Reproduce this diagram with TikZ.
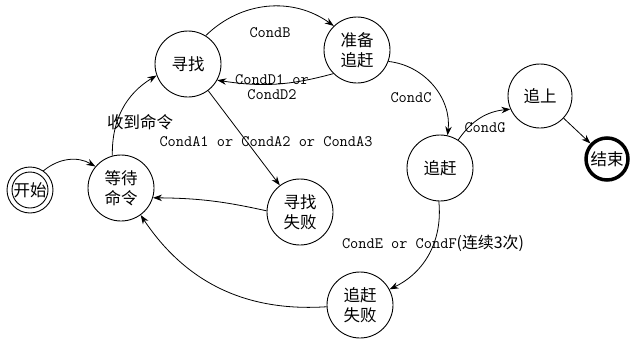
\documentclass[tikz,border=0pt]{standalone}
\usepackage{fontspec}
\newfontfamily\cjk{Noto Sans CJK SC}
\usetikzlibrary{arrows.meta}
\begin{document}
\begin{tikzpicture}[x=1pt,y=1pt,
  state/.style={circle,draw,line width=0.9pt,minimum size=66pt,inner sep=0pt,align=center,
    font=\cjk\fontsize{16.5}{20}\selectfont},
  arr/.style={line width=0.8pt,-{Stealth[length=9pt,width=6.5pt]}},
  lbl/.style={font=\ttfamily\fontsize{15.9}{15}\selectfont,inner sep=1pt,align=center},
  zh/.style={font=\cjk\fontsize{16.5}{20}\selectfont,inner sep=1pt}]
\useasboundingbox (0,0) rectangle (631,-340);
\fill[white] (0,0) rectangle (631,-340);
% states
\node[state,minimum size=46pt] (start) at (30,-190) {开始};
\draw[line width=0.9pt] (start.center) circle[radius=18pt];
\node[state] (wait) at (121,-188) {等待\\命令};
\node[state] (search) at (188,-64) {寻找};
\node[state] (prep) at (357,-50) {准备\\追赶};
\node[state] (sfail) at (300,-212) {寻找\\失败};
\node[state] (chase) at (440,-168) {追赶};
\node[state,minimum size=64pt] (caught) at (540,-96) {追上};
\node[state,minimum size=42pt,line width=3.5pt] (end) at (607,-159) {结束};
\node[state] (cfail) at (360,-305) {追赶\\失败};
% edges
\draw[arr] (start.55) to[bend left=35] (wait.140);
\draw[arr] (wait.105) to[bend left=30] (search.200);
\draw[arr] (search.58) to[bend left=40] (prep.134);
\draw[arr] (prep.225) to[bend left=12] (search.331);
\draw[arr] (search) -- (sfail);
\draw[arr] (sfail.178) to[bend right=6] (wait.-17);
\draw[arr] (prep.-20) to[bend left=45] (chase.77);
\draw[arr] (chase.57) to[bend left=25] (caught.204);
\draw[arr] (caught) -- (end);
\draw[arr] (chase.268) to[bend left=35] (cfail.28);
\draw[arr] (cfail.183) to[bend left=30] (wait.-54);
% labels
\node[zh] (l1) at (140,-122) {收到命令};
\node[lbl] (l2) at (270,-33) {CondB};
\node[lbl] (l3) at (272,-87) {CondD1 or\\CondD2};
\node[lbl] (l4) at (266,-142) {CondA1 or CondA2 or CondA3};
\node[lbl] (l5) at (411,-98) {CondC};
\node[lbl] (l6) at (485,-128) {CondG};
\node[lbl] (l7) at (433,-243) {CondE or CondF{\cjk(连续3次)}};
\end{tikzpicture}
\end{document}
